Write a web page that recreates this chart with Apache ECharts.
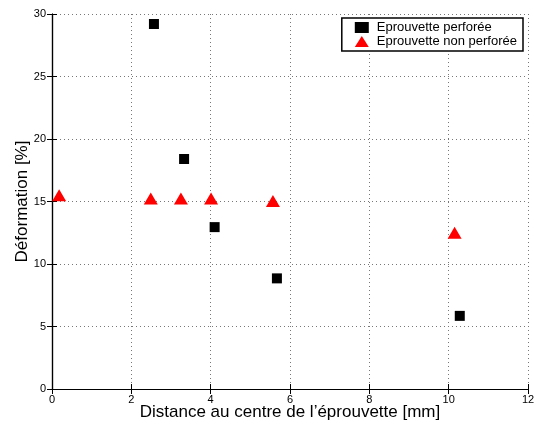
<!DOCTYPE html>
<html>
<head>
<meta charset="utf-8">
<script src="https://cdn.jsdelivr.net/npm/echarts@6/dist/echarts.min.js"></script>
<style>
  html, body { margin: 0; padding: 0; background: #fff; }
  #chart { width: 541px; height: 425px; }
</style>
</head>
<body>
<div id="chart"></div>
<script>
// éprouvette perforée
const perfX = [2.57, 3.33, 4.10, 5.67, 10.28]
const perfY = [29.2, 18.4, 12.95, 8.85, 5.85]
// éprouvette non perforée
const nonPerfX = [0.18, 2.49, 3.25, 4.01, 5.57, 10.15]
const nonPerfY = [15.5, 15.25, 15.25, 15.25, 15.05, 12.5]

const font = 'Liberation Sans, Arial, sans-serif'
const chart = echarts.init(document.getElementById('chart'))

const dotted = { show: true, lineStyle: { color: '#777', type: [1, 3], width: 1 } }

chart.setOption({
  backgroundColor: '#fff',
  animation: false,
  grid: { left: 52, right: 13, top: 14, bottom: 36, outerBoundsMode: 'none' },
  legend: {
    orient: 'vertical',
    right: 18,
    top: 18,
    itemWidth: 14,
    itemHeight: 11,
    itemGap: 1,
    padding: [3, 6, 3, 13],
    backgroundColor: '#fff',
    borderColor: '#000',
    borderWidth: 1.5,
    borderRadius: 0,
    textStyle: { fontFamily: font, fontSize: 13, color: '#000', padding: [0, 0, 0, 3] },
    data: [
      { name: 'Eprouvette perforée', icon: 'rect' },
      { name: 'Eprouvette non perforée', icon: 'triangle' }
    ]
  },
  xAxis: [
    {
      type: 'value', min: 0, max: 12, interval: 2,
      name: 'Distance au centre de l’éprouvette [mm]',
      nameLocation: 'middle', nameGap: 15, nameMoveOverlap: false,
      nameTextStyle: { fontFamily: font, fontSize: 17, color: '#000' },
      axisLine: { lineStyle: { color: '#000', width: 1.2 } },
      axisTick: { inside: true, length: 5, lineStyle: { color: '#000' } },
      axisLabel: { fontFamily: font, fontSize: 11, color: '#000', margin: 5 },
      splitLine: dotted
    },
    {
      type: 'value', min: 0, max: 12, interval: 2, position: 'top',
      axisLine: { show: true, lineStyle: { color: '#000', width: 1.2 } },
      axisTick: { inside: true, length: 5, lineStyle: { color: '#000' } },
      axisLabel: { show: false },
      splitLine: { show: false }
    }
  ],
  yAxis: [
    {
      type: 'value', min: 0, max: 30, interval: 5,
      name: 'Déformation [%]',
      nameLocation: 'middle', nameGap: 21, nameMoveOverlap: false,
      nameTextStyle: { fontFamily: font, fontSize: 17, color: '#000' },
      axisLine: { show: true, lineStyle: { color: '#000', width: 1.2 } },
      axisTick: { show: true, inside: true, length: 5, lineStyle: { color: '#000' } },
      axisLabel: { fontFamily: font, fontSize: 11, color: '#000', margin: 6 },
      splitLine: dotted
    },
    {
      type: 'value', min: 0, max: 30, interval: 5, position: 'right',
      axisLine: { show: true, lineStyle: { color: '#000', width: 1.2 } },
      axisTick: { show: true, inside: true, length: 5, lineStyle: { color: '#000' } },
      axisLabel: { show: false },
      splitLine: { show: false }
    }
  ],
  series: [
    {
      name: 'Eprouvette perforée',
      type: 'scatter',
      symbol: 'rect',
      symbolSize: 10,
      itemStyle: { color: '#000', opacity: 1 },
      data: perfX.map((x, i) => [x, perfY[i]])
    },
    {
      name: 'Eprouvette non perforée',
      type: 'scatter',
      symbol: 'triangle',
      symbolSize: [14, 12],
      itemStyle: { color: '#ff0000', opacity: 1 },
      data: nonPerfX.map((x, i) => [x, nonPerfY[i]])
    }
  ]
})
</script>
</body>
</html>
